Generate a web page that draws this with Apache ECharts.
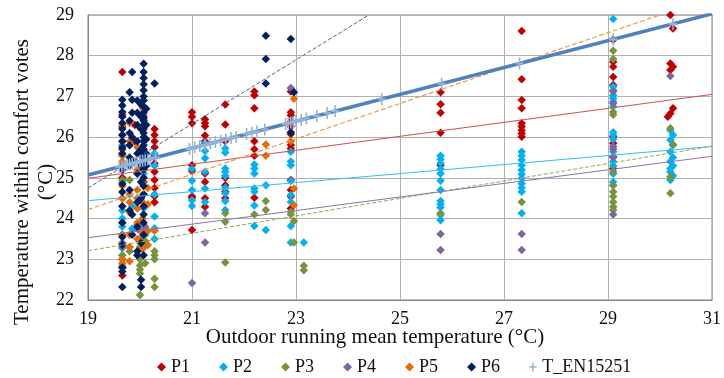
<!DOCTYPE html>
<html><head><meta charset="utf-8">
<script src="https://cdn.jsdelivr.net/npm/echarts@6/dist/echarts.min.js"></script>
<style>html,body{margin:0;padding:0;background:#fff}#c{width:724px;height:378px}</style>
</head><body><div id="c"></div><script>
const xTicks = [19, 21, 23, 25, 27, 29, 31];
const yTicks = [22, 23, 24, 25, 26, 27, 28, 29];

const P1 = [[19.66,27.6],[19.66,26.55],[19.66,26.25],[19.66,26.05],[19.66,25.9],[19.66,25.7],[19.66,25.55],[19.66,25.0],[19.66,24.5],[19.66,23.6],[19.66,23.0],[19.66,22.8],[19.66,22.6],
[19.9,26.3],[19.9,25.9],[19.9,25.4],[20.07,26.7],[20.07,26.45],[20.07,25.6],[20.07,24.9],
[20.28,26.2],[20.28,26.05],[20.28,25.9],[20.28,25.75],[20.28,25.55],[20.28,25.35],[20.28,25.15],[20.28,24.95],[20.28,24.75],[20.28,24.55],[20.28,24.4],
[21.0,26.61],[21.0,26.5],[21.0,26.34],[21.0,25.31],[21.0,25.17],[21.0,24.55],[21.0,24.51],[21.0,23.72],
[21.25,26.44],[21.25,26.35],[21.25,26.27],[21.25,26.04],[21.25,25.9],[21.25,25.11],[21.25,24.9],[21.25,24.5],[21.25,24.29],
[21.64,26.8],[21.64,26.31],[21.64,25.9],[21.64,25.0],[21.64,24.82],[21.64,24.66],[21.64,24.5],
[22.2,27.12],[22.2,27.03],[22.2,26.71],[22.2,25.9],[22.2,25.7],[22.2,25.54],[22.2,24.51],
[22.9,27.12],[22.9,26.61],[22.9,26.54],[22.9,26.38],[22.9,26.26],[22.9,26.07],[22.9,25.81],[22.9,25.72],[22.9,24.95],[22.9,24.7],[22.9,24.54],[22.9,24.25],
[25.78,27.1],[25.78,26.81],[25.78,26.6],[25.78,26.11],[25.78,25.31],
[27.34,28.61],[27.34,27.42],[27.34,26.91],[27.34,26.71],[27.34,26.34],[27.34,26.26],[27.34,26.17],[27.34,26.09],[27.34,26.01],
[29.1,28.39],[29.1,27.85],[29.1,27.73],[29.1,27.48],[29.1,27.28],[29.1,26.01],[29.1,25.85],[29.1,25.52],[29.1,25.23],
[30.2,29.0],[30.25,28.67],[30.2,27.81],[30.25,27.73],[30.2,27.65],[30.25,26.71],[30.2,26.58],[30.15,26.5]];

const P2 = [[19.66,25.8],[19.66,25.55],[19.66,25.3],[19.66,24.9],[19.66,24.2],[19.66,24.0],[19.66,23.8],[19.66,23.27],[19.66,23.1],
[19.85,25.4],[19.85,24.3],[19.85,23.75],[20.07,25.1],[20.07,24.6],[20.07,24.25],[20.07,23.3],
[20.28,25.6],[20.28,25.3],[20.28,24.6],[20.28,24.05],[20.28,23.76],[20.28,23.5],
[21.0,25.22],[21.0,24.93],[21.0,24.7],[21.0,24.45],[21.0,24.31],
[21.25,25.85],[21.25,25.66],[21.25,25.48],[21.25,25.15],[21.25,24.74],[21.25,24.41],
[21.64,25.72],[21.64,25.62],[21.64,25.23],[21.64,25.15],[21.64,25.05],[21.64,24.76],[21.64,24.62],[21.64,24.43],[21.64,24.21],
[22.2,25.33],[22.2,25.23],[22.2,25.11],[22.2,24.74],[22.2,24.66],[22.2,24.32],[22.2,23.82],
[22.42,24.82],[22.42,23.72],
[22.9,25.64],[22.9,25.4],[22.9,25.31],[22.9,24.92],[22.9,24.58],[22.9,24.41],[22.9,23.82],[22.9,23.41],
[23.15,23.41],
[25.78,25.54],[25.78,25.46],[25.78,25.36],[25.78,25.22],[25.78,25.11],[25.78,24.93],[25.78,24.7],[25.78,24.43],[25.78,24.35],[25.78,24.27],[25.78,24.09],[25.78,23.96],
[27.34,25.64],[27.34,25.54],[27.34,25.44],[27.34,25.31],[27.34,25.19],[27.34,25.09],[27.34,24.99],[27.34,24.86],[27.34,24.76],[27.34,24.66],[27.34,24.13],
[29.1,28.9],[29.1,27.24],[29.1,27.15],[29.1,27.03],[29.1,26.95],[29.1,26.87],[29.1,26.75],[29.1,26.12],[29.1,26.05],[29.1,25.95],[29.1,25.64],[29.1,25.4],[29.1,25.3],[29.1,25.1],[29.1,24.9],[29.1,24.81],
[30.2,26.17],[30.25,26.05],[30.2,25.93],[30.25,25.8],[30.2,25.64],[30.25,25.5],[30.2,25.4],[30.25,25.3],[30.2,25.23],[30.2,25.15],[30.25,25.05],[30.2,24.95]];

const P3 = [[19.66,24.95],[19.66,23.4],[19.66,23.1],[19.66,22.9],[19.66,22.8],[19.8,24.95],[19.8,23.3],[19.8,23.2],
[20.0,23.9],[20.0,23.7],[20.0,23.5],[20.0,23.3],[20.0,23.0],[20.0,22.85],[20.0,22.75],[20.0,22.65],[20.0,22.12],
[20.1,23.6],[20.1,23.45],[20.1,22.9],[20.28,23.2],[20.28,23.1],[20.28,23.0],[20.28,22.52],[20.28,22.32],
[21.64,24.13],[21.64,23.92],[21.64,22.92],[22.2,24.1],[22.42,24.43],[22.42,24.21],[22.9,24.17],[22.9,24.1],
[22.96,23.94],[22.96,23.41],[23.15,22.84],[23.15,22.73],[25.78,24.13],[27.34,24.41],
[29.1,28.12],[29.1,27.92],[29.1,26.62],[29.1,26.55],[29.1,25.15],[29.1,24.82],[29.1,24.66],[29.1,24.54],[29.1,24.41],[29.1,24.29],[29.1,24.21],
[30.2,26.22],[30.25,25.82],[30.2,25.03],[30.2,24.62]];

const P4 = [[19.66,23.4],[19.66,23.3],[19.95,23.85],[19.95,23.75],[20.05,23.7],[20.1,23.8],
[21.0,22.42],[21.25,24.13],[21.25,23.41],[22.9,27.21],[25.78,23.62],[25.78,23.23],[27.34,23.62],[27.34,23.23],
[29.1,27.12],[29.1,26.83],[29.1,25.77],[29.1,25.71],[29.1,25.5],[29.1,24.1],[30.2,27.5]];

const P5 = [[19.66,26.3],[19.66,25.56],[19.66,25.4],[19.66,24.8],[19.66,24.5],[19.66,24.3],[19.66,23.9],[19.66,23.6],[19.66,23.0],[19.66,22.85],[19.66,22.8],
[19.8,26.35],[19.8,25.9],[19.8,24.6],[19.8,24.4],[19.8,24.15],[19.8,23.6],[19.8,23.3],[19.8,22.95],
[19.95,25.75],[19.95,25.2],[19.95,24.7],[19.95,24.5],[19.95,24.25],[19.95,23.9],[19.95,23.5],[19.95,23.2],[19.95,23.1],
[20.05,26.74],[20.05,26.55],[20.05,25.5],[20.05,24.9],[20.05,24.4],[20.05,24.0],[20.05,23.65],[20.05,23.4],[20.05,23.25],
[20.15,24.75],[20.15,24.35],[20.15,23.7],[20.15,23.35],[20.28,23.7],
[22.42,25.82],[22.42,25.54],[22.9,25.9],[22.96,26.94],[22.96,24.74],[22.96,24.33]];

const P6 = [[19.66,26.92],[19.66,26.78],[19.66,26.62],[19.66,26.5],[19.66,26.35],[19.66,26.2],[19.66,26.05],[19.66,25.9],[19.66,25.75],[19.66,25.6],[19.66,25.2],[19.66,24.85],[19.66,24.65],[19.66,24.3],[19.66,23.9],[19.66,23.55],[19.66,23.35],[19.66,22.8],[19.66,22.7],[19.66,22.32],
[19.8,27.1],[19.8,26.4],[19.8,26.1],[19.8,25.8],[19.8,25.5],[19.8,25.3],[19.8,24.7],[19.8,24.2],
[19.85,27.6],[19.85,26.92],[19.85,26.6],[19.85,26.0],[19.85,25.4],[19.85,24.1],[19.85,23.6],
[19.95,26.9],[19.95,26.6],[19.95,26.3],[19.95,25.9],[19.95,25.6],[19.95,25.1],[19.95,24.4],[19.95,23.8],[19.95,23.2],[19.95,23.1],
[20.02,26.8],[20.02,26.5],[20.02,26.2],[20.02,25.7],[20.02,25.3],[20.02,24.9],[20.02,24.5],[20.02,23.4],[20.02,22.5],[20.02,22.32],
[20.07,27.8],[20.07,27.6],[20.07,27.45],[20.07,27.3],[20.07,27.15],[20.07,27.0],[20.07,26.9],[20.07,26.75],[20.07,26.6],[20.07,26.5],[20.07,26.4],[20.07,26.3],[20.07,26.2],[20.07,26.1],[20.07,26.0],[20.07,25.9],[20.07,25.8],[20.07,25.7],[20.07,25.6],[20.07,25.5],[20.07,25.4],[20.07,25.2],[20.07,25.0],[20.07,24.8],[20.07,24.6],[20.07,24.3],[20.07,24.1],[20.07,23.9],[20.07,23.6],[20.07,23.1],
[20.12,26.7],[20.12,26.3],[20.12,25.95],[20.12,25.6],[20.12,25.3],[20.28,27.32],
[22.42,28.49],[22.42,27.92],[22.42,27.32],[22.9,28.41],[22.9,26.12],[22.96,27.1]];

const TEN = [[19.6,25.27],[19.65,25.28],[19.7,25.30],[19.75,25.32],[19.8,25.33],[19.85,25.35],[19.9,25.37],[19.95,25.38],[20.0,25.40],[20.05,25.42],[20.1,25.43],[20.15,25.45],[20.2,25.47],[20.3,25.50],
[20.95,25.71],[21.05,25.75],[21.15,25.78],[21.25,25.81],[21.35,25.85],[21.45,25.88],[21.55,25.91],[21.65,25.94],[21.75,25.98],[21.85,26.01],
[22.05,26.08],[22.15,26.11],[22.25,26.14],[22.4,26.19],[22.8,26.32],[22.85,26.34],[22.9,26.36],[22.95,26.37],[23.0,26.39],[23.1,26.42],[23.2,26.46],
[23.4,26.52],[23.6,26.59],[23.75,26.64],[24.65,26.93],[25.8,27.31],[27.3,27.81],[29.1,28.40],[30.25,28.78]];

const seriesNames = ['P1','P2','P3','P4','P5','P6','T_EN15251'];
const seriesData = [P1, P2, P3, P4, P5, P6, TEN];
const markerColors = ['#C00000','#00B0F0','#77933C','#8064A2','#E46C0A','#002060','#95B3D7'];

const trendStart = [[19,24.99],[19,24.44],[19,23.21],[19,23.53],[19,24.22],[19,24.75],[19,25.07]];
const trendEnd   = [[31,27.05],[31,25.77],[31,25.78],[31,25.53],[30,29.0],[24.4,29.0],[31,29.03]];
const trendColors = ['#D0504D','#33BFEF','#8EAA55','#8A72AE','#F79646','#4E6494','#4F81BD'];
const trendWidths = [1,1,1,1,1.2,1,3.5];
const trendTypes = ['solid','solid','dashed','solid','dashed','dashed','solid'];

const plusPath = 'path://M4,0h2v12h-2z M0,5h10v2h-10z';
const FONT = 'Liberation Serif';

const series = [];
seriesNames.forEach((n, i) => {
  const isPlus = i === 6;
  series.push({
    name: n, type: 'scatter', data: seriesData[i],
    symbol: isPlus ? plusPath : 'diamond',
    symbolSize: isPlus ? [8, 12] : 8.5,
    itemStyle: { color: markerColors[i], opacity: 1 },
    z: isPlus ? 5 : 2,
    silent: true
  });
});
seriesNames.forEach((n, i) => {
  series.push({
    name: n + ' trend', type: 'line',
    data: [trendStart[i], trendEnd[i]],
    showSymbol: false, symbol: 'none',
    lineStyle: { color: trendColors[i], width: trendWidths[i], type: trendTypes[i] },
    z: i === 6 ? 4 : 3,
    silent: true, animation: false
  });
});

const chart = echarts.init(document.getElementById('c'), null, { renderer: 'canvas' });
chart.setOption({
  animation: false,
  backgroundColor: '#fff',
  grid: { left: 88, right: 7, top: 15, bottom: 78, show: true, borderColor: '#868686', borderWidth: 1, containLabel: false },
  xAxis: {
    type: 'value', min: 19, max: 31,
    axisLine: { show: true, lineStyle: { color: '#868686', width: 1 } },
    axisTick: { show: false, customValues: xTicks },
    axisLabel: { customValues: xTicks, color: '#111', fontFamily: FONT, fontSize: 18, margin: 10 },
    splitLine: { show: true, lineStyle: { color: '#b0b0b0', width: 1 } }
  },
  yAxis: {
    type: 'value', min: 22, max: 29, interval: 1,
    axisLine: { show: true, lineStyle: { color: '#868686', width: 1 } },
    axisTick: { show: false },
    axisLabel: { color: '#111', fontFamily: FONT, fontSize: 18, margin: 14 },
    splitLine: { show: true, lineStyle: { color: '#b0b0b0', width: 1 } }
  },
  legend: {
    data: seriesNames.map((n, i) => ({ name: n, icon: i === 6 ? plusPath : 'diamond' })),
    left: 152, top: 354, itemWidth: 9, itemHeight: 9, itemGap: 29, padding: [2, 5, 4, 5],
    textStyle: { color: '#111', fontFamily: FONT, fontSize: 18, lineHeight: 22 },
    selectedMode: false
  },
  graphic: [
    { type: 'text', x: 34, y: 182, rotation: Math.PI / 2,
      style: { text: 'Temperature withih comfort votes\n(°C)', fill: '#111', font: '21px "Liberation Serif"', align: 'center', verticalAlign: 'middle', lineHeight: 24 } },
    { type: 'text', x: 375, y: 337,
      style: { text: 'Outdoor running mean temperature (°C)', fill: '#111', font: '21px "Liberation Serif"', align: 'center', verticalAlign: 'middle' } }
  ],
  series: series
});
</script></body></html>
